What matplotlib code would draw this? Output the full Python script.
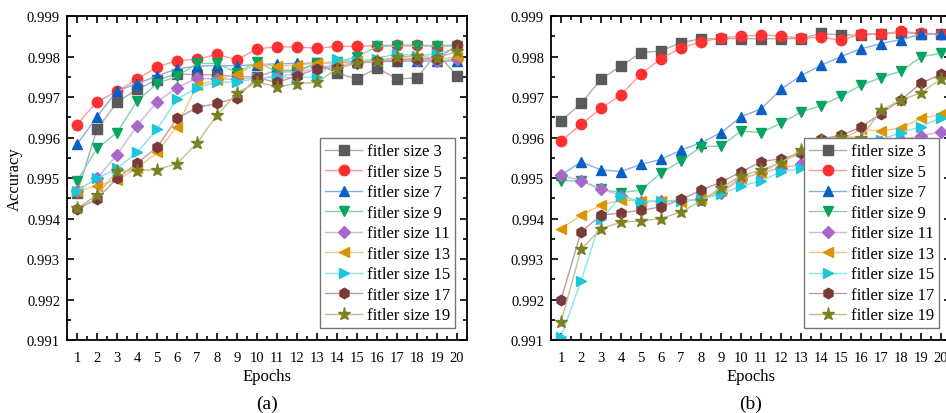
import numpy as np
import matplotlib
matplotlib.use("Agg")
import matplotlib.pyplot as plt
from matplotlib.ticker import MultipleLocator
from matplotlib.colors import to_rgb

plt.rcParams['font.family'] = ['Liberation Serif', 'DejaVu Serif']

epochs = np.arange(1, 21)
labels = ["fitler size 3", "fitler size 5", "fitler size 7", "fitler size 9", "fitler size 11",
          "fitler size 13", "fitler size 15", "fitler size 17", "fitler size 19"]
colors = ["#5a5a5a", "#ff3030", "#0a5fc4", "#06a45e", "#a868c8",
          "#db9400", "#18c8d8", "#7b3a3a", "#7c8022"]
markers = ["s", "o", "^", "v", "D", "<", ">", "h", "*"]

# panel (a)
acc_a = [
    [0.99462, 0.99620, 0.99687, 0.99719, 0.99742, 0.99757, 0.99755, 0.99755, 0.99750, 0.99750,
     0.99766, 0.99766, 0.99783, 0.99759, 0.99745, 0.99772, 0.99745, 0.99747, 0.99809, 0.99752],
    [0.99632, 0.99688, 0.99714, 0.99744, 0.99774, 0.99790, 0.99793, 0.99805, 0.99792, 0.99819,
     0.99824, 0.99824, 0.99820, 0.99825, 0.99825, 0.99827, 0.99828, 0.99828, 0.99827, 0.99828],
    [0.99583, 0.99651, 0.99715, 0.99733, 0.99752, 0.99770, 0.99776, 0.99778, 0.99777, 0.99780,
     0.99782, 0.99783, 0.99784, 0.99785, 0.99787, 0.99787, 0.99788, 0.99789, 0.99788, 0.99789],
    [0.99492, 0.99573, 0.99612, 0.99690, 0.99733, 0.99751, 0.99783, 0.99783, 0.99760, 0.99787,
     0.99762, 0.99762, 0.99783, 0.99787, 0.99799, 0.99825, 0.99826, 0.99826, 0.99826, 0.99826],
    [0.99468, 0.99499, 0.99557, 0.99629, 0.99688, 0.99723, 0.99746, 0.99744, 0.99744, 0.99747,
     0.99750, 0.99758, 0.99774, 0.99778, 0.99785, 0.99788, 0.99792, 0.99792, 0.99788, 0.99795],
    [0.99467, 0.99481, 0.99495, 0.99524, 0.99563, 0.99627, 0.99729, 0.99742, 0.99758, 0.99780,
     0.99777, 0.99778, 0.99784, 0.99785, 0.99790, 0.99790, 0.99796, 0.99796, 0.99793, 0.99799],
    [0.99468, 0.99499, 0.99524, 0.99563, 0.99620, 0.99695, 0.99723, 0.99737, 0.99737, 0.99746,
     0.99750, 0.99747, 0.99750, 0.99793, 0.99788, 0.99795, 0.99807, 0.99801, 0.99807, 0.99821],
    [0.99424, 0.99448, 0.99499, 0.99536, 0.99576, 0.99647, 0.99674, 0.99684, 0.99698, 0.99748,
     0.99736, 0.99752, 0.99770, 0.99772, 0.99783, 0.99788, 0.99790, 0.99795, 0.99793, 0.99828],
    [0.99425, 0.99458, 0.99517, 0.99518, 0.99521, 0.99535, 0.99586, 0.99655, 0.99710, 0.99737,
     0.99725, 0.99733, 0.99736, 0.99770, 0.99785, 0.99788, 0.99799, 0.99801, 0.99796, 0.99813],
]

# panel (b)
acc_b = [
    [0.99641, 0.99684, 0.99744, 0.99777, 0.99809, 0.99814, 0.99834, 0.99844, 0.99844, 0.99844,
     0.99844, 0.99844, 0.99844, 0.99857, 0.99853, 0.99853, 0.99856, 0.99859, 0.99856, 0.99856],
    [0.99591, 0.99633, 0.99672, 0.99706, 0.99757, 0.99795, 0.99821, 0.99836, 0.99846, 0.99850,
     0.99853, 0.99851, 0.99845, 0.99848, 0.99840, 0.99856, 0.99856, 0.99862, 0.99857, 0.99856],
    [0.99507, 0.99540, 0.99520, 0.99516, 0.99534, 0.99546, 0.99569, 0.99587, 0.99612, 0.99651,
     0.99671, 0.99719, 0.99753, 0.99778, 0.99800, 0.99819, 0.99832, 0.99842, 0.99855, 0.99855],
    [0.99493, 0.99493, 0.99472, 0.99464, 0.99470, 0.99513, 0.99542, 0.99577, 0.99579, 0.99616,
     0.99612, 0.99635, 0.99663, 0.99679, 0.99702, 0.99729, 0.99748, 0.99764, 0.99799, 0.99808],
    [0.99507, 0.99493, 0.99474, 0.99456, 0.99441, 0.99443, 0.99445, 0.99447, 0.99464, 0.99497,
     0.99513, 0.99524, 0.99534, 0.99550, 0.99570, 0.99580, 0.99590, 0.99595, 0.99604, 0.99614],
    [0.99375, 0.99408, 0.99433, 0.99446, 0.99443, 0.99443, 0.99441, 0.99449, 0.99468, 0.99501,
     0.99512, 0.99540, 0.99561, 0.99590, 0.99595, 0.99620, 0.99616, 0.99624, 0.99647, 0.99657],
    [0.99108, 0.99246, 0.99398, 0.99456, 0.99441, 0.99443, 0.99443, 0.99447, 0.99461, 0.99480,
     0.99493, 0.99515, 0.99524, 0.99538, 0.99554, 0.99571, 0.99595, 0.99612, 0.99627, 0.99649],
    [0.99200, 0.99367, 0.99408, 0.99414, 0.99420, 0.99429, 0.99447, 0.99470, 0.99490, 0.99515,
     0.99540, 0.99548, 0.99561, 0.99597, 0.99605, 0.99626, 0.99659, 0.99693, 0.99734, 0.99756],
    [0.99144, 0.99324, 0.99375, 0.99391, 0.99394, 0.99400, 0.99416, 0.99443, 0.99476, 0.99505,
     0.99520, 0.99538, 0.99569, 0.99595, 0.99602, 0.99600, 0.99667, 0.99693, 0.99710, 0.99745],
]


def lighten(c, f=0.5):
    r, g, b = to_rgb(c)
    return (r + (1 - r) * f, g + (1 - g) * f, b + (1 - b) * f)


def draw_panel(ax, data, tag):
    for vals, lab, col, mk in zip(data, labels, colors, markers):
        ms = 7.5
        if mk == "*":
            ms = 9.5
        elif mk == "D":
            ms = 6.5
        ax.plot(epochs, vals, color=lighten(col), lw=1.0, marker=mk, ms=ms,
                mfc=col, mec=col, label=lab)
    ax.set_xlim(0.5, 20.5)
    ax.set_ylim(0.991, 0.999)
    ax.set_xticks(epochs)
    ax.xaxis.set_minor_locator(MultipleLocator(0.5))
    ax.yaxis.set_major_locator(MultipleLocator(0.001))
    ax.yaxis.set_minor_locator(MultipleLocator(0.0005))
    ax.yaxis.set_major_formatter(plt.FormatStrFormatter("%.3f"))
    ax.tick_params(which="both", direction="in", top=True, right=True, labelsize=10.5, width=1.2)
    ax.tick_params(which="major", length=5)
    ax.tick_params(axis="x", which="major", pad=8)
    ax.tick_params(axis="y", which="major", pad=5)
    ax.tick_params(which="minor", length=3)
    for s in ax.spines.values():
        s.set_linewidth(1.3)
    ax.set_xlabel("Epochs", fontsize=12, labelpad=3)
    ax.set_ylabel("Accuracy", fontsize=12, labelpad=3)
    leg = ax.legend(loc="lower right", fontsize=12, frameon=True, fancybox=False,
                    handlelength=2.2, handletextpad=0.3, labelspacing=0.27,
                    borderpad=0.3, borderaxespad=0.7, framealpha=1)
    leg.get_frame().set_edgecolor("#777777")
    leg.get_frame().set_linewidth(1.0)
    ax.text(0.5, -0.197, tag, transform=ax.transAxes, ha="center", va="center", fontsize=14)


fig = plt.figure(figsize=(9.46, 4.14), dpi=100)
ax1 = fig.add_axes([0.0708, 0.1763, 0.4228, 0.7826])
ax2 = fig.add_axes([0.5825, 0.1763, 0.4228, 0.7826])
draw_panel(ax1, acc_a, "(a)")
draw_panel(ax2, acc_b, "(b)")
ax2.set_ylabel("")

fig.savefig("out.png", dpi=100)
